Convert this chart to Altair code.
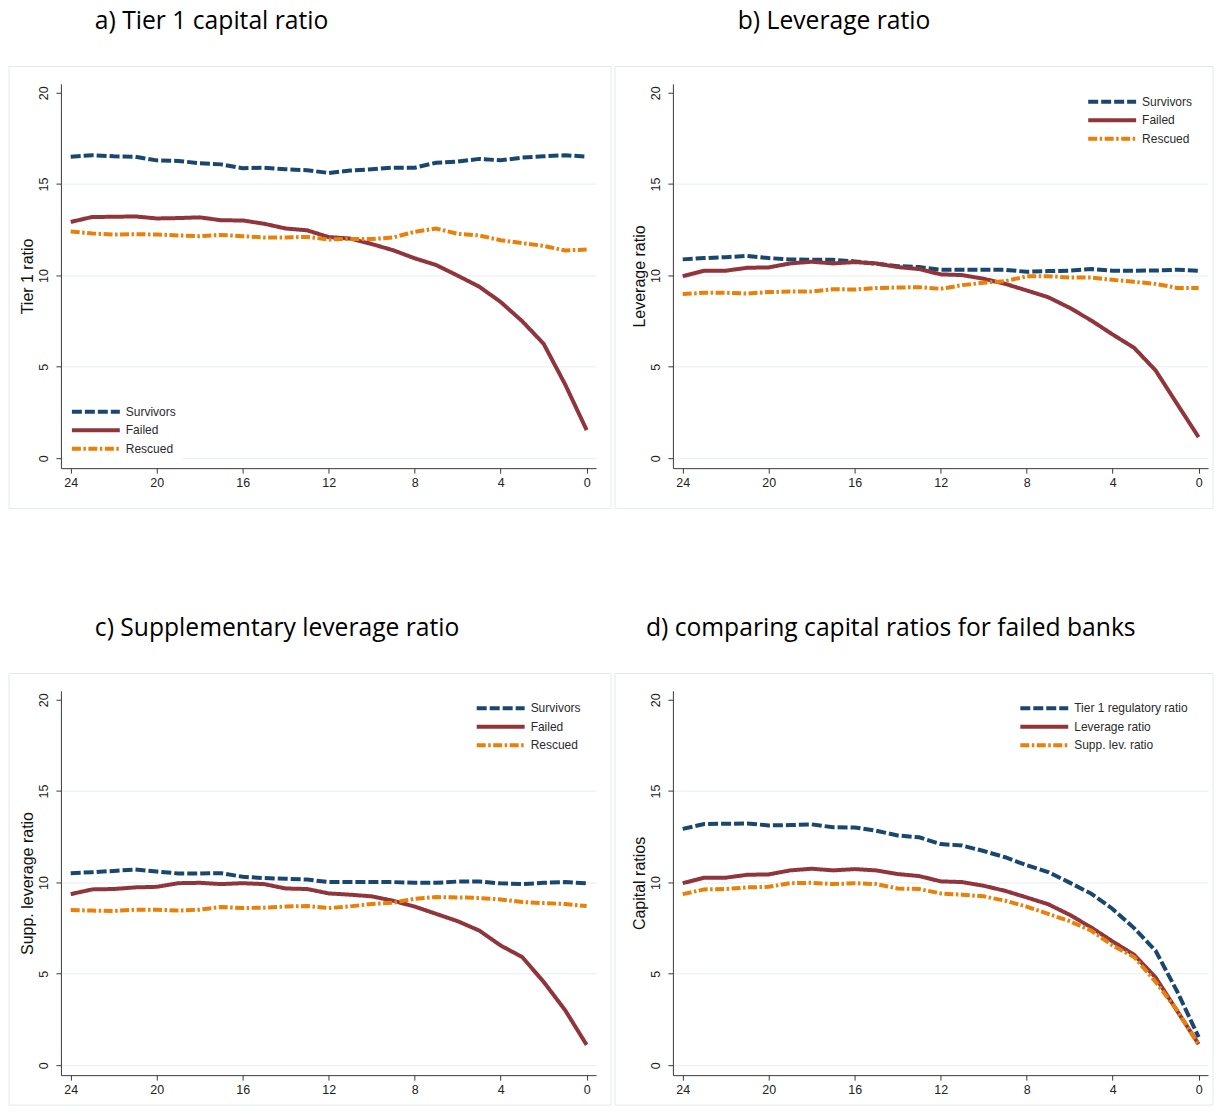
import altair as alt
import pandas as pd

# ---------------- data ----------------
quarters = [24, 23, 22, 21, 20, 19, 18, 17, 16, 15, 14, 13, 12, 11, 10, 9, 8, 7, 6, 5, 4, 3, 2, 1, 0]

tier1_survivors = [16.50, 16.58, 16.52, 16.50, 16.30, 16.27, 16.14, 16.08, 15.87, 15.90, 15.81, 15.76, 15.61,
                   15.74, 15.81, 15.90, 15.90, 16.17, 16.23, 16.38, 16.30, 16.45, 16.52, 16.58, 16.50]
tier1_failed = [12.93, 13.20, 13.21, 13.23, 13.12, 13.14, 13.18, 13.02, 13.01, 12.83, 12.57, 12.47, 12.10,
                12.02, 11.72, 11.38, 10.94, 10.57, 9.99, 9.39, 8.55, 7.50, 6.26, 4.04, 1.54]
tier1_rescued = [12.40, 12.30, 12.24, 12.26, 12.24, 12.19, 12.15, 12.22, 12.15, 12.08, 12.08, 12.11, 11.97,
                 12.00, 11.99, 12.08, 12.39, 12.57, 12.28, 12.19, 11.93, 11.77, 11.62, 11.37, 11.42]

lev_survivors = [10.88, 10.95, 11.00, 11.07, 10.95, 10.88, 10.86, 10.86, 10.77, 10.64, 10.51, 10.46, 10.31,
                 10.31, 10.31, 10.31, 10.20, 10.24, 10.26, 10.35, 10.26, 10.26, 10.27, 10.31, 10.26]
lev_failed = [9.96, 10.26, 10.26, 10.42, 10.44, 10.66, 10.75, 10.66, 10.73, 10.66, 10.46, 10.35, 10.06,
              10.02, 9.82, 9.54, 9.18, 8.81, 8.23, 7.54, 6.77, 6.04, 4.80, 2.97, 1.15]
lev_rescued = [8.98, 9.05, 9.05, 9.01, 9.09, 9.12, 9.12, 9.25, 9.23, 9.31, 9.34, 9.36, 9.27,
               9.47, 9.60, 9.69, 9.95, 9.96, 9.89, 9.89, 9.76, 9.65, 9.54, 9.32, 9.32]

slr_survivors = [10.51, 10.56, 10.63, 10.71, 10.60, 10.49, 10.49, 10.51, 10.31, 10.24, 10.20, 10.16, 10.02,
                 10.02, 10.02, 10.02, 9.98, 9.98, 10.05, 10.05, 9.95, 9.91, 9.98, 10.02, 9.95]
slr_failed = [9.36, 9.62, 9.64, 9.73, 9.76, 9.96, 9.98, 9.91, 9.96, 9.91, 9.67, 9.64, 9.40,
              9.33, 9.24, 9.00, 8.68, 8.28, 7.88, 7.37, 6.55, 5.92, 4.56, 3.01, 1.11]
slr_rescued = [8.49, 8.46, 8.44, 8.51, 8.51, 8.46, 8.51, 8.66, 8.60, 8.62, 8.68, 8.71, 8.60,
               8.69, 8.82, 8.89, 9.11, 9.20, 9.18, 9.15, 9.07, 8.93, 8.87, 8.82, 8.71]

group_names = ["Survivors", "Failed", "Rescued"]
ratio_names = ["Tier 1 regulatory ratio", "Leverage ratio", "Supp. lev. ratio"]
x_ticks = [24, 20, 16, 12, 8, 4, 0]
y_ticks = [0, 5, 10, 15, 20]

# ---------------- styling ----------------
COLORS = ["#1a476f", "#90353b", "#e8800a"]
DASHES = [[10, 3], [1, 0], [9, 2.5, 2.5, 2.5]]
BORDER = "#e2eaee"
GRID = "#e6eef1"
AXISC = "#3a3a3a"
W, H = 536, 385


def make_df(names, series):
    rows = []
    for name, vals in zip(names, series):
        for q, v in zip(quarters, vals):
            rows.append({"quarter": q, "value": v, "series": name})
    return pd.DataFrame(rows)


def panel(names, series, ytitle, title, title_dx, leg_x, leg_y, rect):
    df = make_df(names, series)
    leg = alt.Legend(
        title=None, orient="none", legendX=leg_x, legendY=leg_y,
        symbolType="M-1,0H7", symbolSize=144, symbolStrokeWidth=4,
        labelFont="Liberation Sans", labelFontSize=12, labelColor="#2a2a2a",
        labelOffset=40, rowPadding=2.5, padding=6, fillColor="white",
    )
    x = alt.X("quarter:Q",
              scale=alt.Scale(domain=[-0.437, 24.456], reverse=True, nice=False, zero=False),
              axis=alt.Axis(values=x_ticks, format="d", title=None, grid=False,
                            tickSize=5, labelPadding=3, labelFont="Liberation Sans",
                            labelFontSize=12.5, labelColor="#222", domainColor=AXISC,
                            tickColor=AXISC, labelFlush=False))
    y = alt.Y("value:Q",
              scale=alt.Scale(domain=[-0.546, 20.49], nice=False, zero=False),
              axis=alt.Axis(values=y_ticks, title=ytitle, grid=True,
                            gridColor={"condition": {"test": "datum.value > 19", "value": "transparent"},
                                       "value": GRID},
                            labelAngle=270, labelAlign="center", labelBaseline="bottom",
                            tickSize=5, labelPadding=5, labelFont="Liberation Sans",
                            labelFontSize=12.5, labelColor="#222", domainColor=AXISC,
                            tickColor=AXISC, labelFlush=False,
                            titleFont="Liberation Sans", titleFontSize=16,
                            titleFontWeight="normal", titleColor="#111", titlePadding=2))
    lines = alt.Chart(df).mark_line(strokeWidth=4, strokeCap="butt").encode(
        x=x, y=y,
        color=alt.Color("series:N", scale=alt.Scale(domain=names, range=COLORS), legend=leg),
        strokeDash=alt.StrokeDash("series:N", scale=alt.Scale(domain=names, range=DASHES), legend=leg),
    )
    L, R, T, B = rect
    box = alt.Chart(pd.DataFrame({"k": [0]})).mark_rect(
        fill="transparent", stroke=BORDER, strokeWidth=1).encode(
        x=alt.value(L), x2=alt.value(R), y=alt.value(T), y2=alt.value(B))
    return alt.layer(box, lines).properties(
        width=W, height=H,
        title=alt.TitleParams(text=title, anchor="start", frame="group", dx=title_dx,
                              offset=12, baseline="alphabetic", font="Open Sans",
                              fontSize=24.7, fontWeight="normal", color="#000"),
    )


pa = panel(group_names, [tier1_survivors, tier1_failed, tier1_rescued], "Tier 1 ratio",
           "a) Tier 1 capital ratio", 34, 3, 314.5, (-52, 551, -17.3, 425.5))
pb = panel(group_names, [lev_survivors, lev_failed, lev_rescued], "Leverage ratio",
           "b) Leverage ratio", 65, 408, 4, (-58, 541, -17.3, 425.5))
pc = panel(group_names, [slr_survivors, slr_failed, slr_rescued], "Supp. leverage ratio",
           "c) Supplementary leverage ratio", 34, 408.5, 3.5, (-52, 551, -17.3, 415))
pd_ = panel(ratio_names, [tier1_failed, lev_failed, slr_failed], "Capital ratios",
            "d) comparing capital ratios for failed banks", -27, 340, 3.5, (-58, 541, -17.3, 415))

RES = dict(color="independent", strokeDash="independent", x="independent", y="independent")

row1 = alt.hconcat(pa, pb, spacing=2).resolve_scale(**RES).resolve_legend(
    color="independent", strokeDash="independent")
row2 = alt.hconcat(pc, pd_, spacing=2).resolve_scale(**RES).resolve_legend(
    color="independent", strokeDash="independent")

chart = alt.vconcat(row1, row2, spacing=107).resolve_scale(**RES).resolve_legend(
    color="independent", strokeDash="independent"
).properties(padding=0, background="white").configure_view(stroke=None)

chart.save("out.html", embed_options={"renderer": "svg", "actions": False})
